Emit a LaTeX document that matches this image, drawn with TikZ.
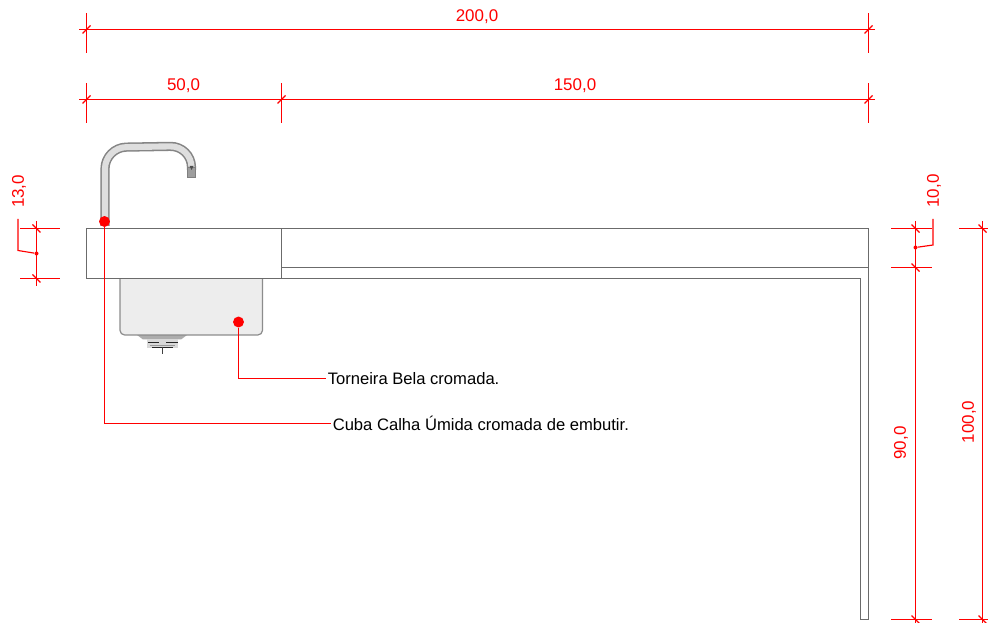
\documentclass[tikz,border=0pt]{standalone}
\usepackage{fontspec}
\setmainfont{Liberation Sans}
\begin{document}
\begin{tikzpicture}[x=0.75pt,y=-0.75pt,
  plan/.style={draw=black!58,line width=1pt},
  dimline/.style={draw=red,line width=0.85pt},
  lead/.style={draw=red,line width=0.9pt},
  dimtext/.style={text=red,font=\fontsize{12.7pt}{14pt}\selectfont,inner sep=0pt},
  calltext/.style={text=black,font=\fontsize{12.45pt}{14pt}\selectfont,inner sep=0pt,anchor=west},
  bigdot/.style={circle,fill=red,inner sep=0pt,minimum size=8.2pt},
  smalldot/.style={circle,fill=red,inner sep=0pt,minimum size=3pt}]
\useasboundingbox (0,0) rectangle (988,623);
\fill[white] (0,0) rectangle (988,623);

% faucet
\path[draw=black!48,line width=6.9pt,line cap=butt,rounded corners=16pt]
  (105,226) -- (105,147.5) -- (191.5,146) -- (191.5,170);
\path[draw=black!13,line width=4.6pt,line cap=butt,rounded corners=16pt]
  (105,226) -- (105,147.5) -- (191.5,146) -- (191.5,170);
\fill[black!38,draw=black!50,line width=0.4pt] (187.5,167.5) rectangle (195.5,177.5);
\fill[black!70] (189.5,166) -- (193.5,166) -- (191.5,170) -- cycle;

% drain
\fill[black!32] (137,335) -- (187,335) -- (181,339.5) -- (143,339.5) -- cycle;
\fill[black!15] (147,339) rectangle (178,348);
\draw[black!85,line width=1pt] (148,342.8) -- (159,342.8) (166,342.8) -- (178,342.8);
\draw[black!85,line width=1pt] (152,347.5) -- (173,347.5);
\draw[black!40,line width=0.6pt] (150,345) -- (175,345);
\draw[black!75,line width=1pt] (162.5,347) -- (162.5,354);

% basin
\path[fill=black!7,draw=black!45,line width=0.9pt,rounded corners=3.5pt]
  (120,270) -- (120,335) -- (262.5,335) -- (262.5,270);

% counter
\fill[white] (86,228) rectangle (868,278);
\fill[white] (861,278) rectangle (868,619);
\node[plan,fill=white,inner sep=0pt,outer sep=0pt,minimum width=146.25pt,minimum height=37.5pt,anchor=north west] (sink) at (86.5,228.5) {};
\draw[plan] (sink.north east) -- (868.5,228.5) -- (868.5,619.5) -- (860.5,619.5) -- (860.5,278.5) -- (sink.south east);
\draw[plan] (281.5,267.5) -- (868.5,267.5);

% top dimensions
\coordinate (a1) at (86.5,29.5); \coordinate (a2) at (868.5,29.5);
\coordinate (b1) at (86.5,99.5); \coordinate (b2) at (281.5,99.5); \coordinate (b3) at (868.5,99.5);
\draw[dimline] (79,29.5) -- (875,29.5);
\draw[dimline] (79,99.5) -- (875,99.5);
\foreach \c in {a1,a2,b1,b2,b3}{
  \draw[dimline] ([yshift=12pt]\c) -- ([yshift=-18pt]\c);
  \draw[dimline] ([xshift=-3pt,yshift=-3pt]\c) -- ([xshift=3pt,yshift=3pt]\c);
}
\node[dimtext] (t200) at (477,16.5) {200,0};
\node[dimtext] (t50) at (183.5,86) {50,0};
\node[dimtext] (t150) at (575,86) {150,0};

% left dimension 13,0
\coordinate (l1) at (36.5,228.5); \coordinate (l2) at (36.5,278.5);
\draw[dimline] (20,228.5) -- (60,228.5);
\draw[dimline] (20,278.5) -- (60,278.5);
\draw[dimline] (36.5,221) -- (36.5,286);
\foreach \c in {l1,l2}{
  \draw[dimline] ([xshift=-3pt,yshift=3pt]\c) -- ([xshift=3pt,yshift=-3pt]\c);
}
\node[smalldot] (ld) at (36.5,253.5) {};
\coordinate (lj1) at (18,250.5); \coordinate (lj2) at (18,219);
\draw[dimline] (ld) -- (lj1) -- (lj2);
\node[dimtext,rotate=90] (t13) at (19,191.5) {13,0};

% right dimensions
\coordinate (r1) at (915.5,228.5); \coordinate (r2) at (915.5,267.5); \coordinate (r3) at (915.5,619.5);
\coordinate (q1) at (982.5,228.5); \coordinate (q3) at (982.5,619.5);
\draw[dimline] (891,228.5) -- (932,228.5);
\draw[dimline] (891,267.5) -- (932,267.5);
\draw[dimline] (891,619.5) -- (932,619.5);
\draw[dimline] (915.5,221) -- (915.5,623);
\draw[dimline] (959,228.5) -- (988,228.5);
\draw[dimline] (959,619.5) -- (988,619.5);
\draw[dimline] (982.5,221) -- (982.5,623);
\foreach \c in {r1,r2,r3,q1,q3}{
  \draw[dimline] ([xshift=-3pt,yshift=3pt]\c) -- ([xshift=3pt,yshift=-3pt]\c);
}
\node[smalldot] (rd) at (915.5,247.5) {};
\coordinate (rj1) at (933,245); \coordinate (rj2) at (933,219);
\draw[dimline] (rd) -- (rj1) -- (rj2);
\node[dimtext,rotate=90] (t10) at (934,191) {10,0};
\node[dimtext,rotate=90] (t90) at (901,443) {90,0};
\node[dimtext,rotate=90] (t100) at (969,422) {100,0};

% callouts
\node[bigdot] (dA) at (238.5,322) {};
\node[bigdot] (dB) at (104.5,221.5) {};
\node[calltext] (tA) at (327.5,378.5) {Torneira Bela cromada.};
\node[calltext] (tB) at (332.5,423.5) {Cuba Calha Úmida cromada de embutir.};
\draw[lead] (dA) |- ([xshift=-1.5pt]tA.west);
\draw[lead] (dB) |- ([xshift=-1.5pt]tB.west);
\end{tikzpicture}
\end{document}
